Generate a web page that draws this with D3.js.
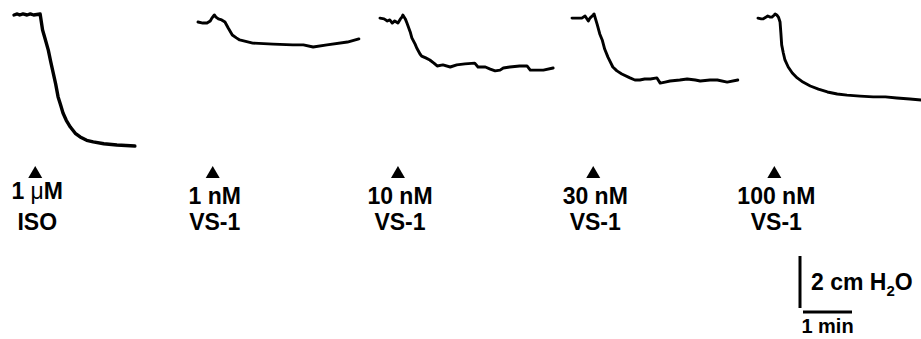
<!DOCTYPE html>
<html>
<head>
<meta charset="utf-8">
<script src="https://cdn.jsdelivr.net/npm/d3@7"></script>
<style>
    body { margin: 0; background: #fff; }
    svg { display: block; font-family: "Liberation Sans", Arial, Helvetica, sans-serif; }
</style>
</head>
<body>
<div id="chart"></div>
<script>
// traces: [time (s) from start of trace, tension change (cm H2O) from peak baseline]
const traceIso = [[0, 0], [4, 0.04], [7, 0], [11, 0.04], [16, 0], [20, 0.04], [24, 0], [32, 0.04],
    [35, -0.58], [38, -0.9], [42, -1.35], [45, -1.8], [48, -2.23], [51, -2.65], [54, -3.15], [57, -3.45],
    [60, -3.77], [64, -4.05], [69, -4.31], [75, -4.55], [81, -4.69], [89, -4.82], [97, -4.88],
    [110, -4.95], [126, -5.0], [148, -5.04]];
const trace1nM = [[0, -0.27], [6, -0.31], [11, -0.31], [15, -0.23], [17, -0.12], [20, 0], [22, -0.08],
    [25, -0.15], [29, -0.19], [33, -0.27], [37, -0.5], [42, -0.77], [47, -0.88], [51, -0.96], [67, -1.08],
    [92, -1.12], [116, -1.15], [129, -1.15], [141, -1.23], [158, -1.15], [183, -1.04], [197, -0.92]];
const trace10nM = [[0, -0.12], [5, -0.15], [9, -0.23], [12, -0.19], [15, -0.31], [18, -0.23], [22, -0.31],
    [25, -0.15], [27, -0.08], [28, 0], [31, -0.15], [33, -0.31], [37, -0.65], [39, -0.88], [43, -1.12],
    [45, -1.27], [49, -1.5], [51, -1.58], [56, -1.65], [61, -1.73], [66, -1.85], [70, -1.96], [77, -1.92],
    [86, -2.0], [94, -1.92], [104, -1.88], [116, -1.85], [120, -2.0], [129, -2.0], [135, -2.08],
    [141, -2.15], [147, -2.12], [151, -2.04], [159, -2.0], [171, -1.96], [180, -1.96], [184, -2.12],
    [192, -2.12], [200, -2.12], [212, -2.04]];
const trace30nM = [[0, -0.12], [6, -0.12], [12, -0.12], [16, -0.04], [20, -0.23], [22, -0.12], [26, 0],
    [27, 0.04], [31, -0.38], [34, -0.73], [37, -0.96], [40, -1.31], [44, -1.62], [50, -2.0], [55, -2.15],
    [61, -2.27], [71, -2.42], [77, -2.5], [83, -2.5], [89, -2.46], [96, -2.46], [104, -2.42], [108, -2.62],
    [114, -2.58], [120, -2.54], [132, -2.5], [141, -2.46], [151, -2.5], [157, -2.54], [169, -2.5],
    [178, -2.5], [190, -2.58], [203, -2.5]];
const trace100nM = [[0, -0.12], [4, -0.15], [6, -0.15], [10, -0.08], [12, -0.04], [15, -0.08], [17, -0.08],
    [20, 0], [21, 0.04], [23, 0], [25, -0.08], [27, -0.27], [28, -0.69], [29, -1.15], [31, -1.46],
    [33, -1.73], [37, -2.0], [42, -2.23], [48, -2.42], [55, -2.58], [64, -2.73], [74, -2.85], [85, -2.96],
    [97, -3.04], [109, -3.08], [125, -3.12], [141, -3.15], [156, -3.15], [170, -3.19], [186, -3.23],
    [200, -3.27]];

const traces = [traceIso, trace1nM, trace10nM, trace30nM, trace100nM];
const addTimes = [26, 18, 22, 26, 20];           // s, drug added (arrowhead)
const doseLabels = ["1 \u03bcM", "1 nM", "10 nM", "30 nM", "100 nM"];
const drugLabels = ["ISO", "VS-1", "VS-1", "VS-1", "VS-1"];

const scaleBarCm = 2;
const scaleBarSec = 60;

// layout
const width = 921, height = 339;
const panelX = [14, 198, 380, 572, 758];
const baseY = 15;

const x = d3.scaleLinear().domain([0, 60]).range([0, 49]);
const y = d3.scaleLinear().domain([0, -2]).range([baseY, baseY + 52]);

const svg = d3.select("#chart").append("svg")
    .attr("width", width)
    .attr("height", height);

const line = d3.line()
    .x(d => x(d[0]))
    .y(d => y(d[1]));

traces.forEach((tr, i) => {
    const g = svg.append("g").attr("transform", `translate(${panelX[i]},0)`);
    g.append("path")
        .datum(tr)
        .attr("fill", "none")
        .attr("stroke", "#000")
        .attr("stroke-width", i === 0 ? 3.4 : 2.9)
        .attr("stroke-linejoin", "round")
        .attr("stroke-linecap", "round")
        .attr("d", line);

    // arrowhead + labels
    const cx = x(addTimes[i]);
    g.append("path")
        .attr("d", `M${cx - 7},178 L${cx + 7},178 L${cx},166 Z`)
        .attr("fill", "#000");

    const t1 = g.append("text")
        .attr("x", cx + 2)
        .attr("y", i === 0 ? 199 : 204)
        .attr("text-anchor", "middle")
        .style("font-size", "23px")
        .style("font-weight", "700");
    if (i === 0) {
        t1.append("tspan").text("1 ");
        t1.append("tspan").style("font-weight", "400").text("\u03bc");
        t1.append("tspan").text("M");
    } else {
        t1.text(doseLabels[i]);
    }

    g.append("text")
        .attr("x", cx + 2)
        .attr("y", 230)
        .attr("text-anchor", "middle")
        .style("font-size", "23px")
        .style("font-weight", "700")
        .text(drugLabels[i]);
});

// scale bars
const sb = svg.append("g");
const barX = 800, barTop = 256;
sb.append("line")
    .attr("x1", barX).attr("x2", barX)
    .attr("y1", barTop)
    .attr("y2", barTop + (y(-scaleBarCm) - y(0)))
    .attr("stroke", "#000")
    .attr("stroke-width", 3);

const hY = 312, hX = 803;
sb.append("line")
    .attr("x1", hX).attr("x2", hX + x(scaleBarSec))
    .attr("y1", hY).attr("y2", hY)
    .attr("stroke", "#000")
    .attr("stroke-width", 3);

const lbl = sb.append("text")
    .attr("x", 811)
    .attr("y", 290)
    .style("font-size", "23px")
    .style("font-weight", "700");
lbl.append("tspan").text(scaleBarCm + " cm H");
lbl.append("tspan").attr("dy", 6).style("font-size", "15px").text("2");
lbl.append("tspan").attr("dy", -6).text("O");

sb.append("text")
    .attr("x", hX + x(scaleBarSec) / 2)
    .attr("y", 333)
    .attr("text-anchor", "middle")
    .style("font-size", "20px")
    .style("font-weight", "700")
    .text("1 min");
</script>
</body>
</html>
